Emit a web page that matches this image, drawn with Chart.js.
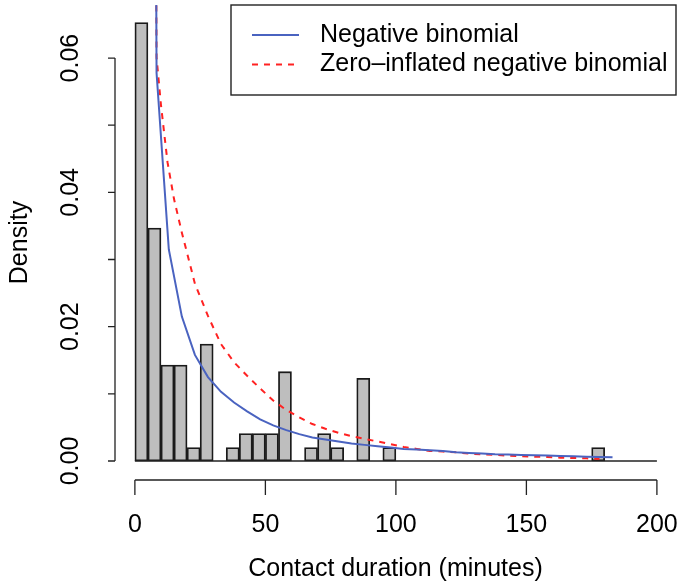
<!DOCTYPE html>
<html>
<head>
<meta charset="utf-8">
<script src="https://cdn.jsdelivr.net/npm/chart.js@4.4.1/dist/chart.umd.min.js"></script>
<style>
  html, body { margin: 0; padding: 0; background: #fff; }
  #wrap { width: 677px; height: 585px; position: relative; }
</style>
</head>
<body>
<div id="wrap"><canvas id="hist"></canvas></div>
<script>
// histogram: 5-minute bins, centre of each bin
const binCentres = [2.5, 7.5, 12.5, 17.5, 22.5, 27.5, 32.5, 37.5, 42.5, 47.5,
  52.5, 57.5, 62.5, 67.5, 72.5, 77.5, 82.5, 87.5, 92.5, 97.5,
  102.5, 107.5, 112.5, 117.5, 122.5, 127.5, 132.5, 137.5, 142.5, 147.5,
  152.5, 157.5, 162.5, 167.5, 172.5, 177.5];
const density = [0.0653, 0.0347, 0.0143, 0.0143, 0.0020, 0.0174, 0, 0.0020, 0.0041, 0.0041,
  0.0041, 0.0133, 0, 0.0020, 0.0041, 0.0020, 0, 0.0123, 0, 0.0020,
  0, 0, 0, 0, 0, 0, 0, 0, 0, 0,
  0, 0, 0, 0, 0, 0.0020];

// fitted curves
const nbX = [7.9, 8.3, 13, 18, 23, 28, 33, 38, 43, 48, 53, 58, 63, 68, 73, 78, 83, 88, 93, 98,
  103, 108, 113, 118, 123, 128, 133, 138, 143, 148, 153, 158, 163, 168, 173, 178, 183];
const nbY = [0.1, 0.0578, 0.0315, 0.0215, 0.0158, 0.0125, 0.0103, 0.0087, 0.0074, 0.0062,
  0.0053, 0.0046, 0.0040, 0.0035, 0.0032, 0.0029, 0.0026, 0.0024, 0.0022, 0.0020,
  0.0018, 0.0017, 0.0016, 0.0015, 0.0013, 0.0012, 0.0011, 0.0010, 0.00095, 0.0009,
  0.00085, 0.0008, 0.00075, 0.0007, 0.00065, 0.0006, 0.00055];
const zinbX = [7.9, 8.3, 10, 12.5, 15, 18, 23, 28, 33, 38, 43, 48, 53, 58, 63, 68, 73, 78, 83, 88,
  93, 98, 103, 108, 113, 118, 123, 128, 133, 138, 143, 148, 153, 158, 163, 168, 173, 178];
const zinbY = [0.1, 0.0601, 0.053, 0.0445, 0.039, 0.034, 0.0264, 0.0216, 0.0174, 0.0147,
  0.0127, 0.0108, 0.0090, 0.0076, 0.0065, 0.0055, 0.0048, 0.0042, 0.0037, 0.0033,
  0.0029, 0.0025, 0.0021, 0.0018, 0.0015, 0.0014, 0.0013, 0.0011, 0.0010, 0.0009,
  0.0008, 0.0007, 0.00065, 0.0006, 0.0005, 0.00045, 0.0004, 0.0003];

const xTicks = [0, 50, 100, 150, 200];
const yTicks = [0, 0.01, 0.02, 0.03, 0.04, 0.05, 0.06];
const yTickLabels = ["0.00", "", "0.02", "", "0.04", "", "0.06"];

const FONT = '25px "Liberation Sans", Arial, sans-serif';

// R style axes, baseline and legend
const rAxes = {
  id: "rAxes",
  afterDraw(chart) {
    const ctx = chart.ctx;
    const xs = chart.scales.x, ys = chart.scales.y, area = chart.chartArea;
    ctx.save();
    ctx.strokeStyle = "#222";
    ctx.fillStyle = "#000";
    ctx.lineWidth = 1.3;
    ctx.font = FONT;

    // baseline under the bars
    const y0 = ys.getPixelForValue(0);
    ctx.beginPath();
    ctx.moveTo(xs.getPixelForValue(0), y0);
    ctx.lineTo(xs.getPixelForValue(200), y0);
    ctx.stroke();

    // x axis
    const xb = area.bottom;
    ctx.beginPath();
    ctx.moveTo(xs.getPixelForValue(xTicks[0]), xb);
    ctx.lineTo(xs.getPixelForValue(xTicks[xTicks.length - 1]), xb);
    xTicks.forEach(t => {
      const px = xs.getPixelForValue(t);
      ctx.moveTo(px, xb);
      ctx.lineTo(px, xb + 15);
    });
    ctx.stroke();
    ctx.textAlign = "center";
    ctx.textBaseline = "middle";
    xTicks.forEach(t => ctx.fillText(String(t), xs.getPixelForValue(t), xb + 45));
    ctx.fillText("Contact duration (minutes)", (area.left + area.right) / 2, xb + 89);

    // y axis
    const yl = area.left + 1;
    ctx.beginPath();
    ctx.moveTo(yl, ys.getPixelForValue(yTicks[0]));
    ctx.lineTo(yl, ys.getPixelForValue(yTicks[yTicks.length - 1]));
    yTicks.forEach(t => {
      const py = ys.getPixelForValue(t);
      ctx.moveTo(yl, py);
      ctx.lineTo(yl - 7, py);
    });
    ctx.stroke();
    yTicks.forEach((t, i) => {
      if (!yTickLabels[i]) return;
      ctx.save();
      ctx.translate(yl - 44, ys.getPixelForValue(t));
      ctx.rotate(-Math.PI / 2);
      ctx.fillText(yTickLabels[i], 0, 0);
      ctx.restore();
    });
    ctx.save();
    ctx.translate(20, (area.top + area.bottom) / 2);
    ctx.rotate(-Math.PI / 2);
    ctx.fillText("Density", 0, 0);
    ctx.restore();

    // legend box, top right
    const lx = 231, ly = 5, lw = 445, lh = 90;
    ctx.lineWidth = 1.4;
    ctx.strokeRect(lx, ly, lw, lh);
    const items = [chart.data.datasets[0], chart.data.datasets[1]];
    items.forEach((ds, i) => {
      const cy = ly + 30 + i * 29.5;
      ctx.save();
      ctx.strokeStyle = ds.borderColor;
      ctx.lineWidth = 2;
      ctx.setLineDash(ds.borderDash || []);
      ctx.beginPath();
      ctx.moveTo(lx + 21, cy);
      ctx.lineTo(lx + 68, cy);
      ctx.stroke();
      ctx.restore();
      ctx.textAlign = "left";
      ctx.fillText(ds.label, lx + 89, cy);
    });
    ctx.restore();
  }
};

new Chart(document.getElementById("hist"), {
  type: "bar",
  data: {
    datasets: [
      {
        type: "line",
        label: "Negative binomial",
        data: nbX.map((x, i) => ({ x: x, y: nbY[i] })),
        borderColor: "#4a63c0",
        borderWidth: 2,
        pointRadius: 0,
        tension: 0,
        order: 1,
      },
      {
        type: "line",
        label: "Zero\u2013inflated negative binomial",
        data: zinbX.map((x, i) => ({ x: x, y: zinbY[i] })),
        borderColor: "#f22",
        borderWidth: 2,
        borderDash: [6, 6],
        pointRadius: 0,
        tension: 0,
        order: 2,
      },
      {
        type: "bar",
        label: "Histogram",
        data: binCentres.map((x, i) => ({ x: x, y: density[i] })),
        backgroundColor: "#bebebe",
        borderColor: "#1a1a1a",
        borderWidth: 1.8,
        borderSkipped: false,
        barPercentage: 1,
        categoryPercentage: 1,
        order: 3,
      },
    ],
  },
  options: {
    responsive: true,
    maintainAspectRatio: false,
    animation: false,
    layout: {
      padding: { left: 114, right: 0, top: 5, bottom: 105 },
    },
    scales: {
      x: { type: "linear", min: -8, max: 207.7, offset: false, display: false },
      y: { type: "linear", min: -0.00283, max: 0.0679, display: false },
    },
    plugins: {
      legend: { display: false },
      tooltip: { enabled: false },
    },
  },
  plugins: [rAxes],
});
</script>
</body>
</html>
